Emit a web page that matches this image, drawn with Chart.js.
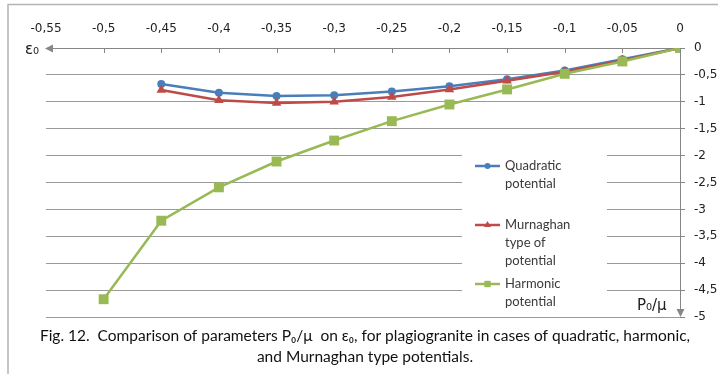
<!DOCTYPE html>
<html>
<head>
<meta charset="utf-8">
<script src="https://cdn.jsdelivr.net/npm/chart.js@4/dist/chart.umd.min.js"></script>
<style>
  html, body { margin: 0; padding: 0; background: #fff; }
  #wrap { position: relative; width: 718px; height: 374px; }
</style>
</head>
<body>
<div id="wrap"><canvas id="chart"></canvas></div>
<script>
// P0/mu values (x axis)
const pValues = [-0.5, -0.45, -0.4, -0.35, -0.3, -0.25, -0.2, -0.15, -0.1, -0.05, 0];
// eps0 values per potential (null = no point)
const quadratic = [null, -0.67, -0.83, -0.89, -0.88, -0.81, -0.71, -0.58, -0.42, -0.21, 0];
const murnaghan = [null, -0.78, -0.97, -1.02, -1.0, -0.91, -0.77, -0.61, -0.44, -0.23, 0];
const harmonic = [-4.67, -3.21, -2.59, -2.11, -1.72, -1.36, -1.05, -0.77, -0.48, -0.25, 0];

const seriesNames = [['Quadratic', 'potential'], ['Murnaghan', 'type of', 'potential'], ['Harmonic', 'potential']];
const captionLines = [
  'Fig. 12.  Comparison of parameters P\u2080/\u03bc  on \u03b5\u2080, for plagiogranite in cases of quadratic, harmonic,',
  'and Murnaghan type potentials.'
];

const blue = '#4a7ebb';
const red = '#be4b48';
const green = '#98b954';
const axisGray = '#868686';

const toPoints = function(vals) {
  const pts = [];
  vals.forEach((v, i) => {
    if (v !== null) pts.push({ x: pValues[i], y: v });
  });
  return pts;
};

const fmt = function(v) {
  const r = Math.round(v * 100) / 100;
  return String(r).replace('.', ',');
};

function arrowHead(ctx, x, y, dir) {
  ctx.beginPath();
  if (dir === 'left') {
    ctx.moveTo(x, y);
    ctx.lineTo(x + 8, y - 4);
    ctx.lineTo(x + 8, y + 4);
  } else {
    ctx.moveTo(x, y);
    ctx.lineTo(x - 4, y - 8);
    ctx.lineTo(x + 4, y - 8);
  }
  ctx.closePath();
  ctx.fill();
}

// extra drawing: legend box, axes with arrows, axis names, caption, frame
const decorations = {
  id: 'decorations',
  beforeDatasetsDraw(chart) {
    const ctx = chart.ctx;
    const area = chart.chartArea;
    const xs = chart.scales.x;
    ctx.save();

    // legend box covering grid lines
    ctx.fillStyle = '#fff';
    ctx.fillRect(462, 148, 145, 165);

    // x axis line with arrow
    ctx.strokeStyle = axisGray;
    ctx.fillStyle = axisGray;
    ctx.lineWidth = 1;
    ctx.beginPath();
    ctx.moveTo(area.right, area.top + 0.5);
    ctx.lineTo(area.left + 4, area.top + 0.5);
    ctx.stroke();
    arrowHead(ctx, area.left - 1, area.top + 0.5, 'left');
    // x ticks pointing down
    for (let v = -0.5; v <= -0.04; v += 0.05) {
      const px = Math.round(xs.getPixelForValue(v)) + 0.5;
      ctx.beginPath();
      ctx.moveTo(px, area.top);
      ctx.lineTo(px, area.top + 5);
      ctx.stroke();
    }
    // y axis line with arrow
    ctx.beginPath();
    ctx.moveTo(area.right + 0.5, area.top);
    ctx.lineTo(area.right + 0.5, area.bottom - 4);
    ctx.stroke();
    arrowHead(ctx, area.right + 0.5, area.bottom, 'down');

    ctx.restore();
  },
  afterDraw(chart) {
    const ctx = chart.ctx;
    ctx.save();

    // frame
    ctx.strokeStyle = '#b4b4b4';
    ctx.lineWidth = 1.5;
    ctx.beginPath();
    ctx.moveTo(8, 374);
    ctx.lineTo(8, 4.5);
    ctx.lineTo(718, 4.5);
    ctx.stroke();

    // axis names
    ctx.fillStyle = '#222';
    ctx.textBaseline = 'alphabetic';
    ctx.font = '15px "DejaVu Sans"';
    ctx.textAlign = 'left';
    ctx.fillText('\u03b5\u2080', 25, 54);
    ctx.fillText('P\u2080/\u03bc', 637, 310);

    // legend
    const entries = [
      { color: blue, style: 'circle', r: 3, y: 166 },
      { color: red, style: 'triangle', r: 4, y: 225 },
      { color: green, style: 'rect', r: 4.5, y: 284 }
    ];
    ctx.font = '13px Lato';
    entries.forEach((e, i) => {
      ctx.strokeStyle = e.color;
      ctx.lineWidth = 2.5;
      ctx.beginPath();
      ctx.moveTo(475, e.y);
      ctx.lineTo(500, e.y);
      ctx.stroke();
      ctx.fillStyle = e.color;
      Chart.helpers.drawPoint(ctx, { pointStyle: e.style, radius: e.r, borderWidth: 0 }, 487.5, e.y);
      ctx.fillStyle = '#3a3a3a';
      ctx.textBaseline = 'middle';
      seriesNames[i].forEach((t, j) => ctx.fillText(t, 505, e.y + j * 18));
    });

    // caption
    ctx.fillStyle = '#111';
    ctx.textAlign = 'center';
    ctx.textBaseline = 'middle';
    ctx.font = '15.5px Lato';
    ctx.fillText(captionLines[0], 365, 336, 684);
    ctx.fillText(captionLines[1], 365, 357);

    ctx.restore();
  }
};

const ctx = document.getElementById('chart').getContext('2d');
const chart = new Chart(ctx, {
  type: 'line',
  data: {
    datasets: [
      {
        label: 'Quadratic potential',
        data: toPoints(quadratic),
        borderColor: blue,
        backgroundColor: blue,
        borderWidth: 2.5,
        pointStyle: 'circle',
        pointRadius: 4,
        pointBorderWidth: 0,
        order: 2
      },
      {
        label: 'Murnaghan type of potential',
        data: toPoints(murnaghan),
        borderColor: red,
        backgroundColor: red,
        borderWidth: 2.5,
        pointStyle: 'triangle',
        pointRadius: 5.5,
        pointBorderWidth: 0,
        order: 1
      },
      {
        label: 'Harmonic potential',
        data: toPoints(harmonic),
        borderColor: green,
        backgroundColor: green,
        borderWidth: 2.5,
        pointStyle: 'rect',
        pointRadius: 7,
        pointBorderWidth: 0,
        order: 0
      }
    ]
  },
  options: {
    responsive: true,
    maintainAspectRatio: false,
    animation: false,
    layout: {
      padding: { left: 46, right: 0, top: 0, bottom: 57 }
    },
    plugins: {
      legend: { display: false },
      tooltip: { enabled: false }
    },
    scales: {
      x: {
        type: 'linear',
        position: 'top',
        min: -0.55,
        max: 0,
        afterFit: (scale) => { scale.height = 48; },
        border: { display: false },
        grid: { display: false, drawTicks: false },
        ticks: {
          stepSize: 0.05,
          padding: 12,
          color: '#222',
          font: { family: '"DejaVu Sans"', size: 12 },
          maxRotation: 0,
          autoSkip: false,
          callback: (v) => fmt(v)
        }
      },
      y: {
        type: 'linear',
        position: 'right',
        min: -5,
        max: 0,
        afterFit: (scale) => { scale.width = 38; },
        border: { display: false },
        grid: {
          color: '#9a9a9a',
          lineWidth: 1,
          tickLength: 5,
          tickColor: axisGray
        },
        ticks: {
          stepSize: 0.5,
          padding: 9,
          color: '#222',
          font: { family: '"DejaVu Sans"', size: 12 },
          callback: (v) => fmt(v)
        }
      }
    }
  },
  plugins: [decorations]
});
</script>
</body>
</html>
